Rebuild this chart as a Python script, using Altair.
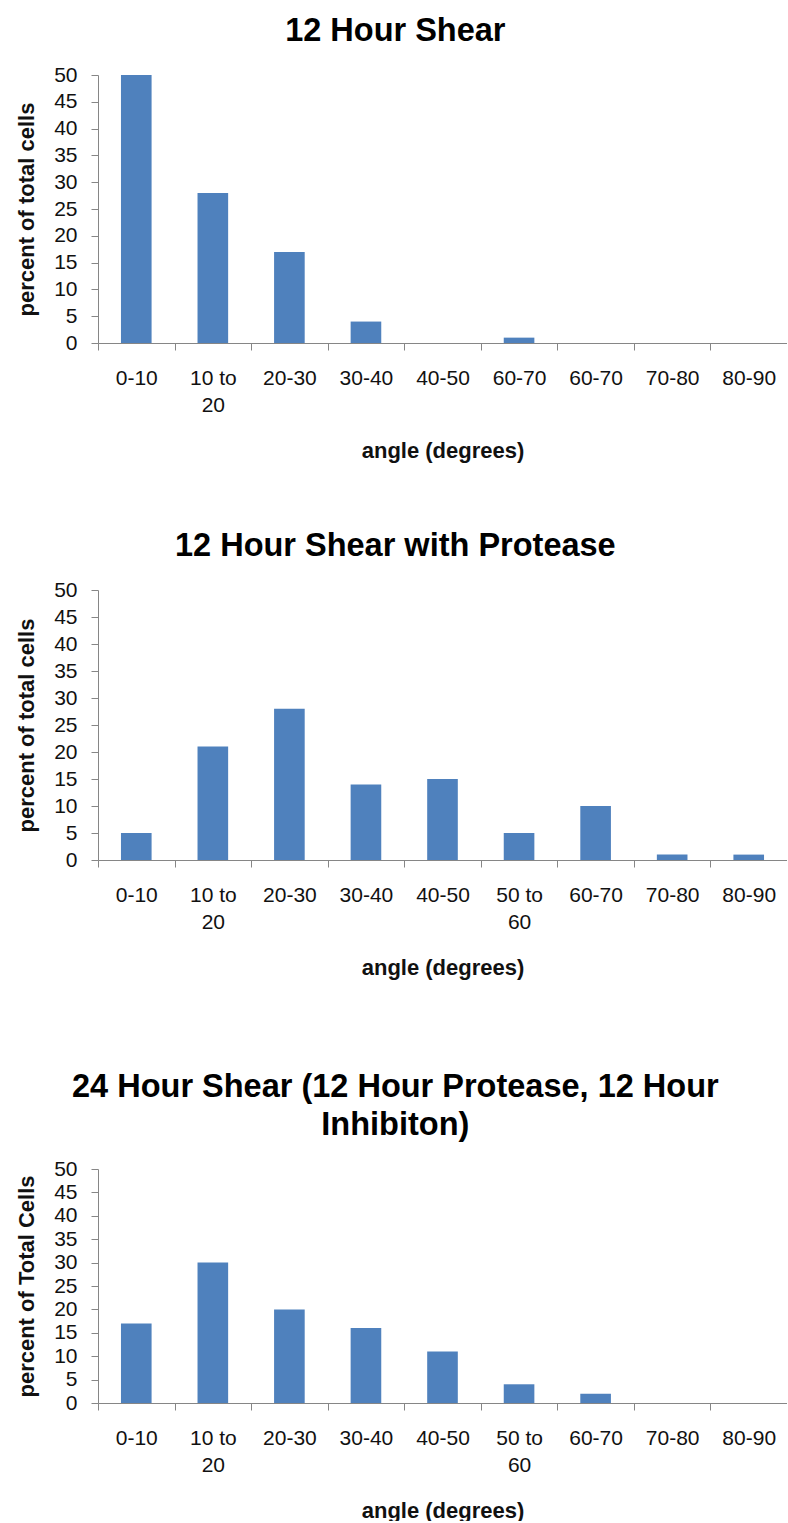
import json
import altair as alt
import pandas as pd

# Angle bins shown under each panel ("\n" marks where the label wraps)
bins_shear = ["0-10", "10 to\n20", "20-30", "30-40", "40-50", "60-70", "60-70", "70-80", "80-90"]
bins_std = ["0-10", "10 to\n20", "20-30", "30-40", "40-50", "50 to\n60", "60-70", "70-80", "80-90"]

# Percent of cells in each angle bin
shear_12h = [50, 28, 17, 4, 0, 1, 0, 0, 0]
shear_12h_protease = [5, 21, 28, 14, 15, 5, 10, 1, 1]
shear_24h_inhibitor = [17, 30, 20, 16, 11, 4, 2, 0, 0]

titles = [
    "12 Hour Shear",
    "12 Hour Shear with Protease",
    ["24 Hour Shear (12 Hour Protease, 12 Hour", "Inhibiton)"],
]
y_titles = ["percent of total  cells", "percent of total  cells", "percent of Total  Cells"]
y_ticks = list(range(0, 55, 5))

FONT = "Liberation Sans"
BAR = "#4F81BD"
AXIS = "#868686"
PLOT_W = 689


def panel(bins, values, title, y_title, height):
    n = len(bins)
    df = pd.DataFrame({"idx": list(range(n)), "pct": values})
    label_expr = f"split({json.dumps(bins)}[datum.value], '\\n')"
    x_axis = alt.Axis(
        title="angle (degrees)",
        values=list(range(n)),
        labelExpr=label_expr,
        labelOffset=PLOT_W / n / 2,
        labelOverlap=False,
        labelFlush=False,
        labelFont=FONT,
        labelFontSize=21,
        labelColor="#111111",
        labelLineHeight=27,
        labelPadding=17,
        tickSize=7,
        tickColor=AXIS,
        domainColor=AXIS,
        grid=False,
        titleFont=FONT,
        titleFontSize=22,
        titleFontWeight="bold",
        titleColor="#111111",
        titlePadding=25,
    )
    y_axis = alt.Axis(
        title=y_title,
        values=y_ticks,
        labelFont=FONT,
        labelFontSize=21,
        labelColor="#111111",
        labelPadding=14,
        tickSize=7,
        tickColor=AXIS,
        domainColor=AXIS,
        grid=False,
        titleFont=FONT,
        titleFontSize=22,
        titleFontWeight="bold",
        titleColor="#111111",
        titlePadding=15,
    )
    return (
        alt.Chart(df)
        .transform_calculate(x0="datum.idx + 0.3", x1="datum.idx + 0.7")
        .mark_bar(color=BAR)
        .encode(
            x=alt.X("x0:Q", scale=alt.Scale(domain=[0, n], nice=False, zero=True), axis=x_axis),
            x2="x1:Q",
            y=alt.Y("pct:Q", scale=alt.Scale(domain=[0, 50], nice=False), axis=y_axis),
            y2=alt.datum(0),
        )
        .properties(
            width=PLOT_W,
            height=height,
            view=alt.ViewBackground(stroke="transparent", strokeWidth=0),
            title=alt.TitleParams(
                text=title,
                font=FONT,
                fontSize=32.5,
                fontWeight="bold",
                color="#000000",
                anchor="middle",
                frame="bounds",
                offset=17,
                lineHeight=38,
                dx=-6,
            ),
        )
    )


c1 = panel(bins_shear, shear_12h, titles[0], y_titles[0], 268)
c2 = panel(bins_std, shear_12h_protease, titles[1], y_titles[1], 270)
c3 = panel(bins_std, shear_24h_inhibitor, titles[2], y_titles[2], 234)

chart = (
    alt.vconcat(alt.vconcat(c1, c2, spacing=68), c3, spacing=92)
    .properties(padding={"left": 15, "top": 14, "right": 0, "bottom": 0})
    .configure_view(stroke="transparent", strokeWidth=0)
    .configure(background="white")
)

chart.save("out.html", embed_options={"renderer": "svg", "actions": False})
